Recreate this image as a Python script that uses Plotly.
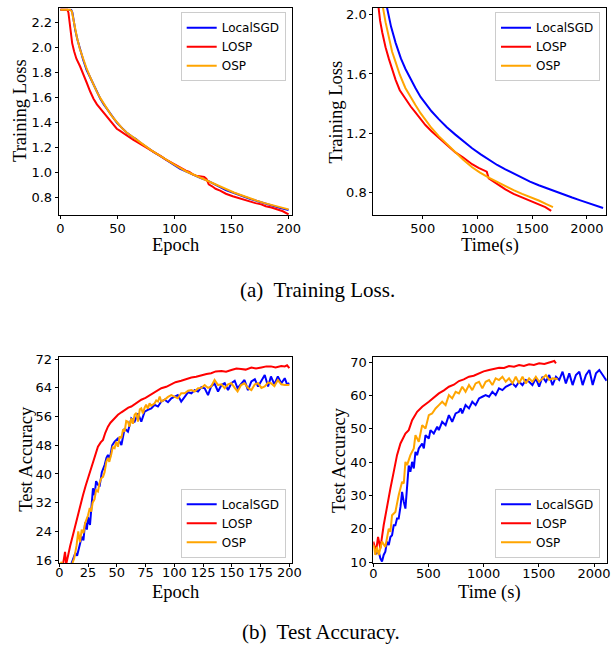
import plotly.graph_objects as go
from plotly.subplots import make_subplots

# ---- (a) training loss vs epoch ----
sgd_loss_ep_x = [0, 8, 9.5, 10.5, 11.5, 13, 15, 17.2, 20, 23, 26, 29, 32, 35, 38, 40.6, 44, 47, 49.4, 53,
                 58, 63, 66, 69.8, 75, 81.5, 87, 93, 99, 105, 111, 117.4, 123, 129, 134, 140, 145, 151, 158, 166,
                 173, 180, 187, 193, 200]
sgd_loss_ep = [2.303, 2.303, 2.30, 2.28, 2.22, 2.14, 2.06, 1.98, 1.90, 1.82, 1.76, 1.70, 1.64, 1.59, 1.545, 1.51,
               1.47, 1.43, 1.40, 1.365, 1.32, 1.285, 1.27, 1.24, 1.205, 1.165, 1.135, 1.10, 1.065, 1.03, 1.005,
               0.975, 0.955, 0.935, 0.91, 0.88, 0.86, 0.84, 0.815, 0.79, 0.77, 0.75, 0.735, 0.715, 0.70]

losp_loss_ep_x = [0, 6, 7, 8, 9, 10.3, 12, 14, 17.2, 20, 23, 26, 29, 32, 35, 38, 40.6, 44, 47, 49.4,
                  52, 55, 58, 61, 64, 67, 69.8, 73, 77, 81.5, 85, 89, 93, 97, 100, 103, 106, 110, 113, 116,
                  119, 122, 126, 128, 130, 133, 136, 140, 145, 151, 156, 161, 166, 171, 176, 180, 185, 190, 195, 200]
losp_loss_ep = [2.303, 2.303, 2.28, 2.20, 2.12, 2.035, 1.97, 1.91, 1.85, 1.78, 1.72, 1.65, 1.59, 1.545, 1.51,
                1.475, 1.445, 1.41, 1.375, 1.35, 1.335, 1.315, 1.30, 1.28, 1.26, 1.245, 1.23, 1.21, 1.19, 1.165,
                1.15, 1.125, 1.10, 1.08, 1.06, 1.05, 1.035, 1.015, 1.005, 0.985, 0.975, 0.97, 0.965, 0.95, 0.905,
                0.89, 0.87, 0.855, 0.83, 0.81, 0.795, 0.785, 0.77, 0.755, 0.745, 0.73, 0.72, 0.705, 0.69, 0.665]

osp_loss_ep_x = [0, 8.5, 10, 11, 12.5, 14.5, 17, 20, 23, 26, 29, 32, 35, 38, 41, 44, 47, 50, 54, 58,
                 63, 68, 74, 80, 86, 92, 98, 104, 110, 116, 122, 128, 134, 140, 146, 152, 158, 165, 172, 179,
                 186, 193, 200]
osp_loss_ep = [2.303, 2.303, 2.29, 2.24, 2.16, 2.08, 1.99, 1.905, 1.83, 1.765, 1.70, 1.645, 1.595, 1.55, 1.505,
               1.465, 1.43, 1.395, 1.355, 1.32, 1.285, 1.25, 1.215, 1.175, 1.14, 1.11, 1.075, 1.04, 1.01, 0.985,
               0.96, 0.935, 0.91, 0.885, 0.86, 0.84, 0.82, 0.795, 0.775, 0.755, 0.74, 0.72, 0.705]

# ---- (a) training loss vs time ----
sgd_loss_t_x = [0, 90, 110, 130, 150, 175, 210, 252, 300, 341, 390, 433, 480, 524, 580, 646, 720, 798, 870, 951,
                1030, 1103, 1180, 1255, 1330, 1408, 1480, 1560, 1640, 1712, 1790, 1865, 1940, 2017, 2080, 2148]
sgd_loss_t = [2.303, 2.303, 2.27, 2.20, 2.12, 2.04, 1.92, 1.81, 1.705, 1.635, 1.562, 1.505, 1.445, 1.40, 1.348,
              1.295, 1.24, 1.19, 1.145, 1.098, 1.057, 1.02, 0.985, 0.955, 0.926, 0.898, 0.873, 0.848, 0.825,
              0.806, 0.785, 0.765, 0.746, 0.727, 0.71, 0.694]

losp_loss_t_x = [0, 50, 65, 80, 94, 110, 130, 160, 191, 220, 252, 290, 341, 390, 433, 480, 524, 580, 646, 720,
                 798, 870, 951, 1010, 1060, 1085, 1103, 1150, 1200, 1255, 1330, 1408, 1480, 1560, 1620, 1674]
losp_loss_t = [2.303, 2.303, 2.25, 2.15, 2.05, 1.96, 1.88, 1.78, 1.70, 1.625, 1.56, 1.49, 1.43, 1.38, 1.34, 1.295,
               1.255, 1.213, 1.17, 1.12, 1.07, 1.035, 0.99, 0.965, 0.95, 0.94, 0.895, 0.87, 0.845, 0.82,
               0.79, 0.765, 0.745, 0.72, 0.70, 0.675]

osp_loss_t_x = [0, 70, 90, 110, 136, 160, 191, 220, 252, 290, 341, 390, 433, 480, 524, 580, 646, 720, 798, 870,
                951, 1020, 1103, 1180, 1255, 1330, 1408, 1480, 1560, 1630, 1690]
osp_loss_t = [2.303, 2.303, 2.25, 2.15, 2.05, 1.95, 1.836, 1.75, 1.68, 1.595, 1.505, 1.44, 1.39, 1.335, 1.288,
              1.235, 1.18, 1.125, 1.07, 1.02, 0.97, 0.935, 0.90, 0.87, 0.845, 0.815, 0.79, 0.77, 0.745, 0.72, 0.70]

# ---- (b) test accuracy vs epoch ----
sgd_acc_ep_x = [0, 3, 6, 9, 10, 12, 14, 15.5, 17, 19.5, 21, 22.5, 24, 25, 26.7, 28, 29.3, 30.7, 32, 33.6,
                35, 37, 39.4, 41, 42.3, 44, 46, 48.1, 51, 54, 56.8, 59.7, 62.6, 65.5, 68.4, 71.3, 74.2, 77, 80, 82.9,
                85.8, 88.7, 91.6, 94.5, 97.4, 100, 103, 106, 109, 112, 114.8, 117.7, 120.6, 123.5, 126.4, 129.3,
                132, 135, 138, 141, 143.8, 146.7, 149.6, 152.5, 155, 158, 161, 164, 167, 170, 172.8, 175.7, 178.6,
                181.5, 184, 187, 190, 193, 196, 198, 200]
sgd_acc_ep = [10.5, 11.5, 10.2, 12.5, 14.5, 16.5, 18.0, 17.2, 19.5, 22.5, 21.5, 26.5, 24.5, 28.0, 25.8, 30.5,
              36.0, 34.1, 38.0, 37.0, 36.5, 40.5, 42.5, 44.5, 45.3, 44.4, 48.0, 49.0, 49.9, 48.1, 52.7, 51.8,
              55.5, 54.6, 56.9, 54.6, 57.4, 57.9, 58.3, 59.3, 58.8, 60.2, 60.7, 60.0, 61.1, 61.5, 62.0, 60.2,
              61.6, 62.8, 62.5, 63.4, 63.0, 64.2, 63.9, 62.0, 64.4, 65.2, 63.0, 64.8, 65.3, 63.4, 65.3, 66.0,
              63.9, 65.0, 66.2, 63.4, 65.8, 66.4, 64.4, 66.0, 67.6, 64.4, 67.2, 65.0, 67.2, 65.3, 66.7, 65.0, 65.3]

losp_acc_ep_x = [0, 1, 2, 3, 4, 5, 6, 7.5, 9.5, 11.9, 14, 16.2, 18.5, 20.6, 23, 25, 27, 29.3, 31.5, 33.6,
                 36, 38, 40, 42.3, 44.5, 46.7, 49, 51, 54, 56.8, 60, 62.6, 66, 71.3, 75, 80, 84, 88.7, 93, 97.4,
                 101, 106, 110, 114.8, 119, 123.5, 128, 132, 136, 141, 145, 149.6, 154, 158, 162, 167, 171, 175.7,
                 180, 184, 188, 193, 196, 198, 200]
losp_acc_ep = [13.5, 14.2, 15.0, 14.3, 16.5, 18.3, 14.8, 17.4, 20.0, 23.0, 25.8, 28.6, 31.5, 34.1, 36.8, 38.8,
               41.0, 43.4, 45.7, 47.6, 48.8, 49.5, 51.5, 53.2, 54.3, 55.1, 55.9, 56.5, 57.2, 57.9, 58.5, 58.8,
               59.6, 60.7, 61.2, 62.2, 62.8, 63.9, 64.3, 65.0, 65.6, 66.0, 66.4, 66.9, 67.1, 67.6, 67.9, 68.1,
               68.6, 68.7, 68.5, 69.0, 69.4, 69.3, 69.1, 69.7, 69.4, 69.7, 70.0, 70.0, 69.7, 70.1, 70.0, 70.3, 69.5]

osp_acc_ep_x = [0, 1, 2, 3, 5, 7, 9, 11, 13, 15, 16.5, 18, 19.5, 21, 22.5, 25, 26.5, 27.8, 29, 30.7,
                32, 33.6, 35, 36.5, 38, 39.4, 41, 42.3, 43.5, 45.2, 46.5, 48.1, 49.5, 51, 52.5, 54, 55.5, 56.8,
                58.2, 59.7, 61, 62.6, 64, 65.5, 67, 68.4, 70, 71.3, 72.7, 74.2, 75.5, 77, 78.5, 80, 82.9, 84.3,
                85.8, 87.3, 88.7, 91.6, 94.5, 97.4, 100, 103, 106, 109, 112, 114.8, 117.7, 120.6, 123.5, 126.4,
                129.3, 132, 135, 138, 141, 143.8, 146.7, 149.6, 152.5, 155, 158, 161, 164, 167, 170, 172.8,
                175.7, 178.6, 181.5, 184, 187, 190, 193, 196, 200]
osp_acc_ep = [15.2, 14.3, 15.5, 13.5, 12.8, 14.2, 13.0, 14.5, 16.5, 20.0, 24.0, 21.0, 24.5, 23.5, 26.3, 28.5,
              30.5, 29.5, 32.0, 33.0, 35.5, 35.1, 37.5, 38.8, 39.2, 40.5, 43.5, 44.4, 43.4, 45.5, 47.5, 47.2,
              49.0, 47.6, 50.5, 50.0, 52.5, 51.8, 54.8, 54.6, 53.2, 55.5, 54.0, 56.5, 57.0, 54.6, 58.0, 58.3,
              56.9, 58.5, 59.3, 58.2, 59.7, 59.0, 59.7, 60.5, 60.2, 61.6, 60.2, 60.7, 61.5, 62.0, 61.6, 61.1,
              62.5, 62.5, 63.2, 63.4, 63.0, 63.9, 64.0, 64.8, 64.0, 64.4, 66.2, 64.8, 65.0, 63.9, 65.0, 65.3,
              64.0, 63.0, 64.8, 65.3, 64.0, 63.4, 65.0, 65.3, 64.0, 64.4, 65.5, 65.3, 64.5, 66.2, 65.0, 64.8, 64.8]

# ---- (b) test accuracy vs time ----
sgd_acc_t_x = [20, 49, 64, 79, 94, 109, 124, 140, 155, 170, 185, 200, 215, 230, 246, 261, 276, 291, 321, 336,
               352, 367, 382, 397, 412, 443, 458, 473, 503, 518, 548, 579, 594, 624, 655, 685, 715, 746, 776, 791,
               806, 836, 867, 897, 927, 958, 988, 1018, 1049, 1079, 1109, 1139, 1170, 1200, 1230, 1261, 1291,
               1321, 1352, 1382, 1412, 1442, 1473, 1503, 1533, 1564, 1594, 1624, 1655, 1685, 1715, 1745, 1776,
               1806, 1836, 1867, 1897, 1927, 1958, 1988, 2018, 2048, 2079, 2109, 2140]
sgd_acc_t = [12.5, 13.2, 11.2, 10.2, 12.2, 13.2, 16.2, 15.2, 17.6, 18.1, 21.1, 21.1, 23.1, 23.1, 26.6, 31.1,
             28.1, 26.1, 39.0, 37.1, 40.1, 38.1, 43.1, 42.1, 44.1, 45.6, 44.1, 48.1, 47.1, 49.6, 48.6, 50.6,
             49.6, 52.1, 51.1, 54.1, 52.1, 54.6, 55.1, 56.1, 54.6, 57.1, 56.1, 58.1, 57.1, 59.1, 59.6, 60.1,
             59.6, 61.1, 60.1, 62.1, 61.6, 62.6, 63.1, 63.6, 62.6, 64.1, 63.1, 64.6, 64.1, 63.1, 65.1, 62.6,
             65.6, 64.1, 66.1, 63.1, 65.6, 64.6, 67.1, 63.6, 66.6, 63.1, 66.1, 67.1, 63.1, 66.1, 67.6, 63.1,
             66.6, 67.6, 66.1, 64.6, 65.0]

losp_acc_t_x = [0, 25, 43, 64, 94, 124, 155, 185, 215, 246, 270, 291, 321, 352, 397, 443, 503, 550, 594, 640,
                685, 730, 776, 820, 867, 910, 958, 1000, 1049, 1095, 1140, 1185, 1230, 1275, 1321, 1365, 1412,
                1455, 1503, 1550, 1594, 1640, 1655]
losp_acc_t = [16.2, 13.2, 17.6, 14.2, 21.1, 27.1, 32.1, 37.1, 42.1, 45.6, 47.5, 48.6, 49.6, 52.6, 55.1, 56.6,
              58.1, 59.4, 60.6, 61.5, 62.6, 63.2, 64.3, 64.8, 65.6, 65.9, 66.6, 67.2, 67.6, 67.9, 68.3, 68.2,
              68.8, 68.6, 69.1, 68.8, 69.3, 69.1, 69.6, 69.4, 69.9, 70.3, 69.6]

osp_acc_t_x = [3, 18, 33, 49, 79, 109, 140, 155, 170, 200, 230, 261, 276, 291, 306, 336, 367, 382, 412, 443,
               473, 503, 533, 564, 594, 624, 655, 685, 715, 746, 776, 806, 836, 867, 897, 927, 958, 988, 1018,
               1049, 1079, 1109, 1139, 1170, 1200, 1230, 1261, 1291, 1321, 1352, 1382, 1412, 1442, 1473, 1503,
               1533, 1564, 1594, 1624, 1670]
osp_acc_t = [15.2, 12.2, 14.6, 12.2, 16.2, 14.6, 20.1, 19.1, 24.1, 25.1, 30.1, 34.1, 33.6, 40.1, 39.1, 42.1,
             44.1, 48.1, 46.1, 51.1, 50.1, 54.1, 54.6, 56.1, 57.1, 58.1, 57.1, 60.1, 59.1, 61.1, 60.6, 62.6,
             61.1, 63.1, 61.6, 63.6, 64.1, 62.1, 64.1, 64.6, 63.1, 65.1, 64.6, 65.6, 64.1, 65.1, 63.6, 65.6,
             63.6, 65.6, 63.6, 65.1, 64.1, 65.6, 64.1, 65.1, 66.1, 64.6, 65.1, 64.9]

methods = ['LocalSGD', 'LOSP', 'OSP']
colors = {'LocalSGD': '#0000ff', 'LOSP': '#ff0000', 'OSP': '#ffa500'}

panels = [
    # (row, col, legend, series)
    (1, 1, 'legend', [(sgd_loss_ep_x, sgd_loss_ep), (losp_loss_ep_x, losp_loss_ep), (osp_loss_ep_x, osp_loss_ep)]),
    (1, 2, 'legend2', [(sgd_loss_t_x, sgd_loss_t), (losp_loss_t_x, losp_loss_t), (osp_loss_t_x, osp_loss_t)]),
    (2, 1, 'legend3', [(sgd_acc_ep_x, sgd_acc_ep), (losp_acc_ep_x, losp_acc_ep), (osp_acc_ep_x, osp_acc_ep)]),
    (2, 2, 'legend4', [(sgd_acc_t_x, sgd_acc_t), (losp_acc_t_x, losp_acc_t), (osp_acc_t_x, osp_acc_t)]),
]

W, H = 613, 654
fig = make_subplots(rows=2, cols=2)

for row, col, leg, series in panels:
    for name, (xs, ys) in zip(methods, series):
        fig.add_trace(go.Scatter(x=xs, y=ys, mode='lines', name=name, legend=leg,
                                 line=dict(color=colors[name], width=2)), row=row, col=col)


def px_x(a, b):
    return [a / W, b / W]


def px_y(top, bottom):
    return [1 - bottom / H, 1 - top / H]


tick_font = dict(family='DejaVu Sans', size=13, color='black')
axis_style = dict(showline=True, linecolor='black', linewidth=1, mirror=True, ticks='outside', ticklen=3,
                  tickwidth=1, tickcolor='black', showgrid=False, zeroline=False, tickfont=tick_font,
                  automargin=False)

fig.update_xaxes(**axis_style)
fig.update_yaxes(**axis_style)

fig.update_layout(
    xaxis=dict(domain=px_x(58.7, 292), range=[-1.5, 203], tickvals=[0, 50, 100, 150, 200],
               ticklabelstandoff=-2),
    yaxis=dict(domain=px_y(7.5, 215), range=[0.66, 2.32], tickvals=[0.8, 1.0, 1.2, 1.4, 1.6, 1.8, 2.0, 2.2],
               tickformat='.1f'),
    xaxis2=dict(domain=px_x(373.3, 605.7), range=[48, 2172], tickvals=[500, 1000, 1500, 2000],
                ticklabelstandoff=-2),
    yaxis2=dict(domain=px_y(7.5, 215), range=[0.647, 2.049], tickvals=[0.8, 1.2, 1.6, 2.0], tickformat='.1f'),
    xaxis3=dict(domain=px_x(58.7, 292), range=[-0.5, 202.3], tickvals=[0, 25, 50, 75, 100, 125, 150, 175, 200],
                ticklabelstandoff=-6),
    yaxis3=dict(domain=px_y(356.7, 563.3), range=[15.1, 72.7], tickvals=[16, 24, 32, 40, 48, 56, 64, 72]),
    xaxis4=dict(domain=px_x(373.3, 606.7), range=[0, 2115], tickvals=[0, 500, 1000, 1500, 2000],
                ticklabelstandoff=-5),
    yaxis4=dict(domain=px_y(356.7, 563.3), range=[9.7, 71.6], tickvals=[10, 20, 30, 40, 50, 60, 70]),
)

leg_style = dict(font=dict(family='DejaVu Sans', size=12, color='black'), bgcolor='rgba(255,255,255,0.8)',
                 bordercolor='#cccccc', borderwidth=1, xanchor='right', tracegroupgap=0)
fig.update_layout(
    legend=dict(x=285.7 / W, y=1 - 12.3 / H, yanchor='top', **leg_style),
    legend2=dict(x=600 / W, y=1 - 12.3 / H, yanchor='top', **leg_style),
    legend3=dict(x=285.7 / W, y=1 - 557.7 / H, yanchor='bottom', **leg_style),
    legend4=dict(x=600 / W, y=1 - 557.7 / H, yanchor='bottom', **leg_style),
)

# axis titles and captions as text in pixel positions
serif = 'Liberation Serif'
labels = [
    ('Epoch', 175, 245, 0, 18.5),
    ('Training Loss', 20, 111, -90, 18.5),
    ('Time(s)', 489.5, 245, 0, 18.5),
    ('Training Loss', 335.5, 112, -90, 18.5),
    ('Epoch', 175, 592, 0, 18.5),
    ('Test Accuracy', 25.8, 459, -90, 18.5),
    ('Time (s)', 489, 592, 0, 18.5),
    ('Test Accuracy', 339, 460, -90, 18.5),
    ('(a)\u00a0 Training Loss.', 317.5, 290, 0, 21),
    ('(b)\u00a0 Test Accuracy.', 320.8, 632, 0, 21),
]
for text, x, y, ang, size in labels:
    fig.add_annotation(text=text, x=x / W, y=1 - y / H, xref='paper', yref='paper', showarrow=False,
                       xanchor='center', yanchor='middle', textangle=ang,
                       font=dict(family=serif, size=size, color='black'))

fig.update_layout(width=W, height=H, margin=dict(l=0, r=0, t=0, b=0), plot_bgcolor='white',
                  paper_bgcolor='white', showlegend=True)

# the page body has a default 8px margin; drop it so the figure sits at the window origin
fig.write_html("out.html", config={'displayModeBar': False},
               post_script="document.body.style.margin='0px';")
